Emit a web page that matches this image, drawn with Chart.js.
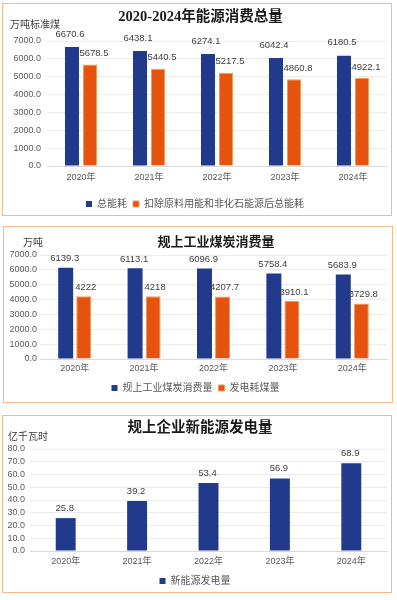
<!DOCTYPE html>
<html>
<head>
<meta charset="utf-8">
<script src="https://cdn.jsdelivr.net/npm/chart.js@4"></script>
<style>
  body { margin: 0; background: #fff; width: 397px; height: 600px; position: relative; overflow: hidden; }
  .panel { position: absolute; border: 1.5px solid #f6b98c; box-sizing: border-box; }
  canvas { position: absolute; }
</style>
</head>
<body>
<div class="panel" style="left:2px;top:3px;width:390px;height:213px"></div>
<div class="panel" style="left:3px;top:226px;width:390px;height:177px"></div>
<div class="panel" style="left:2px;top:415px;width:390px;height:178px"></div>
<canvas id="energy" width="387" height="216" style="left:3px;top:4px"></canvas>
<canvas id="coal" width="387" height="178" style="left:4px;top:227px"></canvas>
<canvas id="newpower" width="387" height="182" style="left:3px;top:416px"></canvas>
<script>
// data
const years = ["2020年", "2021年", "2022年", "2023年", "2024年"];
const totalEnergy = [6670.6, 6438.1, 6274.1, 6042.4, 6180.5];
const netEnergy = [5678.5, 5440.5, 5217.5, 4860.8, 4922.1];
const coalUse = [6139.3, 6113.1, 6096.9, 5758.4, 5683.9];
const powerCoal = [4222, 4218, 4207.7, 3910.1, 3729.8];
const newPower = [25.8, 39.2, 53.4, 56.9, 68.9];

const navy = "#213a8c";
const orange = "#e5540e";

Chart.defaults.font.family = '"Liberation Sans", "Noto Sans CJK SC", sans-serif';
Chart.defaults.color = "#595959";

// title + unit text
const headerText = {
  id: "headerText",
  afterDraw(chart, args, opts) {
    const ctx = chart.ctx;
    ctx.save();
    ctx.textBaseline = "middle";
    ctx.textAlign = "center";
    ctx.fillStyle = "#1a1a1a";
    ctx.font = "bold " + opts.titleSize + 'px "Liberation Serif", "Noto Sans CJK SC", serif';
    ctx.fillText(opts.title, opts.titleX, opts.titleY);
    ctx.textAlign = "left";
    ctx.fillStyle = "#404040";
    ctx.font = '10px "Liberation Sans", "Noto Sans CJK SC", sans-serif';
    ctx.fillText(opts.unit, opts.unitX, opts.unitY);
    ctx.restore();
  },
};

// value above each bar
const valueLabels = {
  id: "valueLabels",
  afterDatasetsDraw(chart, args, opts) {
    const ctx = chart.ctx;
    ctx.save();
    ctx.font = '9.5px "Liberation Sans", sans-serif';
    ctx.fillStyle = "#404040";
    ctx.textAlign = "center";
    ctx.textBaseline = "middle";
    chart.data.datasets.forEach((ds, i) => {
      const off = opts.offsets[i];
      chart.getDatasetMeta(i).data.forEach((bar, j) => {
        ctx.fillText(String(ds.data[j]), bar.x + off[0], bar.y + off[1]);
      });
    });
    ctx.restore();
  },
};

function makeChart(id, s) {
  return new Chart(document.getElementById(id), {
    type: "bar",
    data: { labels: years, datasets: s.datasets },
    plugins: [headerText, valueLabels],
    options: {
      responsive: false,
      animation: false,
      devicePixelRatio: 1,
      categoryPercentage: s.catPct,
      barPercentage: s.barPct,
      layout: { padding: { top: s.top, right: s.right, bottom: s.bottom, left: 0 } },
      plugins: {
        title: { display: false },
        tooltip: { enabled: false },
        legend: {
          position: "bottom",
          labels: { boxWidth: 6, boxHeight: 6, padding: 6, font: { size: 10 }, color: "#595959" },
        },
        headerText: s.header,
        valueLabels: { offsets: s.offsets },
      },
      scales: {
        x: {
          grid: { display: false, drawTicks: false },
          border: { color: "#d9d9d9" },
          ticks: { padding: s.xPad, font: { size: 9 } },
          afterFit: (sc) => { sc.height = s.xHeight; },
        },
        y: {
          min: 0,
          max: s.max,
          grid: { color: "#ebebeb", drawTicks: false },
          border: { display: false },
          ticks: {
            stepSize: s.step,
            autoSkip: false,
            padding: s.yPad,
            font: { size: 9 },
            callback: (v) => v.toFixed(1),
          },
          afterFit: (sc) => { sc.width = s.yWidth; },
        },
      },
    },
  });
}

makeChart("energy", {
  datasets: [
    { label: "总能耗", data: totalEnergy, backgroundColor: navy },
    { label: "扣除原料用能和非化石能源后总能耗", data: netEnergy, backgroundColor: orange, borderColor: "#f39a55", borderWidth: 1 },
  ],
  catPct: 0.53, barPct: 0.78,
  top: 37, right: 3, bottom: 1,
  xPad: 6, xHeight: 27, yPad: 6, yWidth: 44,
  max: 7000, step: 1000,
  offsets: [[-2, -13], [4, -11]],
  header: { title: "2020-2024年能源消费总量", titleSize: 14.5, titleX: 197.5, titleY: 13, unit: "万吨标准煤", unitX: 7, unitY: 21 },
});

makeChart("coal", {
  datasets: [
    { label: "规上工业煤炭消费量", data: coalUse, backgroundColor: navy },
    { label: "发电耗煤量", data: powerCoal, backgroundColor: orange, borderColor: "#f39a55", borderWidth: 1 },
  ],
  catPct: 0.52, barPct: 0.83,
  top: 28, right: 4, bottom: 2,
  xPad: 4, xHeight: 18, yPad: 3, yWidth: 36,
  max: 7000, step: 1000,
  offsets: [[-1, -9], [2, -9]],
  header: { title: "规上工业煤炭消费量", titleSize: 13, titleX: 212, titleY: 16, unit: "万吨", unitX: 19, unitY: 16 },
});

makeChart("newpower", {
  datasets: [
    { label: "新能源发电量", data: newPower, backgroundColor: navy },
  ],
  catPct: 0.3, barPct: 0.93,
  top: 33, right: 3, bottom: 2,
  xPad: 5, xHeight: 19, yPad: 5, yWidth: 27,
  max: 80, step: 10,
  offsets: [[-1, -10]],
  header: { title: "规上企业新能源发电量", titleSize: 14.5, titleX: 197, titleY: 12, unit: "亿千瓦时", unitX: 5, unitY: 21 },
});
</script>
</body>
</html>
